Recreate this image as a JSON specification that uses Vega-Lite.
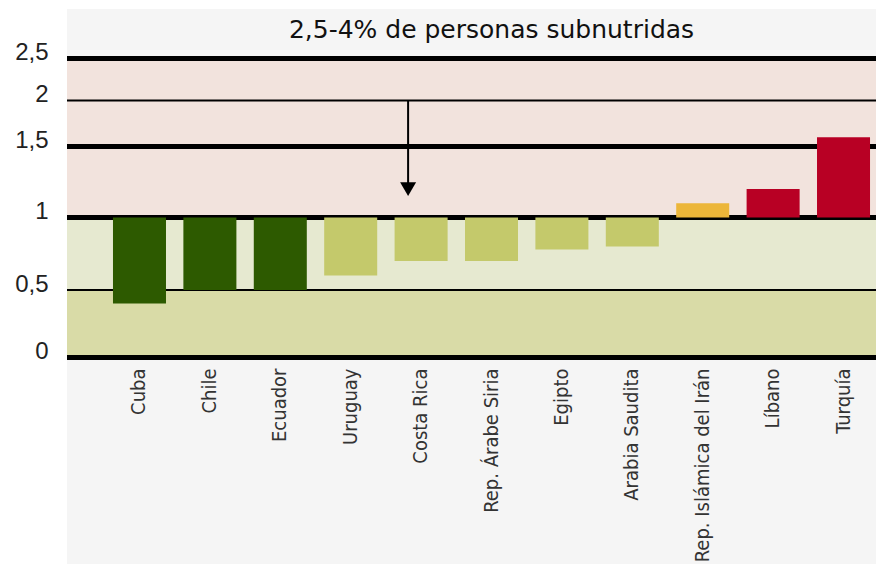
{
  "$schema": "https://vega.github.io/schema/vega-lite/v6.json",
  "width": 809,
  "height": 555,
  "autosize": {"type": "none"},
  "padding": {"left": 67, "top": 9, "right": 0, "bottom": 0},
  "background": "white",
  "view": {"fill": "#f5f5f5", "stroke": null},
  "datasets": {
    "zonas": [
      {"zona": "alto", "lo": 1, "hi": 2.5},
      {"zona": "medio", "lo": 0.5, "hi": 1},
      {"zona": "bajo", "lo": 0, "hi": 0.5}
    ],
    "paises": [
      {"pais": "Cuba", "valor": 0.4, "nivel": "muy bajo"},
      {"pais": "Chile", "valor": 0.5, "nivel": "muy bajo"},
      {"pais": "Ecuador", "valor": 0.5, "nivel": "muy bajo"},
      {"pais": "Uruguay", "valor": 0.6, "nivel": "bajo"},
      {"pais": "Costa Rica", "valor": 0.7, "nivel": "bajo"},
      {"pais": "Rep. Árabe Siria", "valor": 0.7, "nivel": "bajo"},
      {"pais": "Egipto", "valor": 0.78, "nivel": "bajo"},
      {"pais": "Arabia Saudita", "valor": 0.8, "nivel": "bajo"},
      {"pais": "Rep. Islámica del Irán", "valor": 1.1, "nivel": "medio"},
      {"pais": "Líbano", "valor": 1.2, "nivel": "alto"},
      {"pais": "Turquía", "valor": 1.6, "nivel": "alto"}
    ]
  },
  "resolve": {"scale": {"color": "independent"}},
  "layer": [
    {
      "data": {"name": "zonas"},
      "mark": {"type": "rect"},
      "encoding": {
        "y": {
          "field": "hi",
          "type": "quantitative",
          "scale": {"domain": [0, 0.5, 1, 1.5, 2, 2.5], "range": [348.5, 281, 208.5, 137.5, 91.5, 49.5], "zero": false, "nice": false},
          "axis": {
            "values": [0, 0.5, 1, 1.5, 2, 2.5],
            "format": "~g",
            "labelExpr": "replace(datum.label, '.', ',')",
            "ticks": false,
            "domain": false,
            "grid": false,
            "labelFont": "Liberation Sans",
            "labelFontSize": 24,
            "labelColor": "#222222",
            "labelPadding": 19,
            "labelBaseline": "middle",
            "labelOffset": -6,
            "title": "2,5-4% de personas subnutridas",
            "titleAngle": 0,
            "titleX": 424,
            "titleY": 28,
            "titleAlign": "center",
            "titleBaseline": "alphabetic",
            "titleFont": "DejaVu Sans",
            "titleFontSize": 25,
            "titleFontWeight": "normal",
            "titleColor": "#111111"
          }
        },
        "y2": {"field": "lo"},
        "color": {
          "field": "zona",
          "type": "nominal",
          "scale": {"domain": ["alto", "medio", "bajo"], "range": ["#f2e3dd", "#e6e9d0", "#d9dba7"]},
          "legend": null
        }
      }
    },
    {
      "data": {"values": [{"v": 0}, {"v": 1}, {"v": 1.5}, {"v": 2.5}]},
      "mark": {"type": "rule", "color": "#000000", "strokeWidth": 5},
      "encoding": {"y": {"field": "v", "type": "quantitative"}}
    },
    {
      "data": {"values": [{"v": 0.5}, {"v": 2}]},
      "mark": {"type": "rule", "color": "#000000", "strokeWidth": 2},
      "encoding": {"y": {"field": "v", "type": "quantitative"}}
    },
    {
      "data": {"name": "paises"},
      "mark": {"type": "bar"},
      "encoding": {
        "x": {
          "field": "pais",
          "type": "nominal",
          "sort": null,
          "title": null,
          "scale": {
            "domain": ["Cuba", "Chile", "Ecuador", "Uruguay", "Costa Rica", "Rep. Árabe Siria", "Egipto", "Arabia Saudita", "Rep. Islámica del Irán", "Líbano", "Turquía"],
            "paddingInner": 0.247,
            "paddingOuter": 0.369,
            "align": 0.885
          },
          "axis": {
            "orient": "bottom",
            "offset": -204,
            "labelAngle": -90,
            "labelAlign": "right",
            "labelBaseline": "middle",
            "labelPadding": 8,
            "ticks": false,
            "domain": false,
            "grid": false,
            "title": null,
            "labelFont": "'DejaVu Sans Condensed', 'Liberation Sans', sans-serif",
            "labelFontSize": 20,
            "labelColor": "#333333",
            "labelLimit": 0
          }
        },
        "y": {"field": "valor", "type": "quantitative"},
        "y2": {"datum": 1},
        "color": {
          "field": "nivel",
          "type": "nominal",
          "scale": {"domain": ["muy bajo", "bajo", "medio", "alto"], "range": ["#2d5a00", "#c4c96b", "#ecb639", "#b80024"]},
          "legend": null
        }
      }
    },
    {
      "data": {"values": [{"pais": "Costa Rica", "desde": 2, "hasta": 1.24}]},
      "mark": {"type": "rule", "color": "#000000", "strokeWidth": 2, "xOffset": -13},
      "encoding": {
        "x": {"field": "pais", "type": "nominal"},
        "y": {"field": "desde", "type": "quantitative"},
        "y2": {"field": "hasta"}
      }
    },
    {
      "data": {"values": [{"pais": "Costa Rica", "punta": 1.2}]},
      "mark": {"type": "point", "shape": "triangle-down", "filled": true, "color": "#000000", "size": 256, "opacity": 1, "xOffset": -13},
      "encoding": {
        "x": {"field": "pais", "type": "nominal"},
        "y": {"field": "punta", "type": "quantitative"}
      }
    }
  ]
}
